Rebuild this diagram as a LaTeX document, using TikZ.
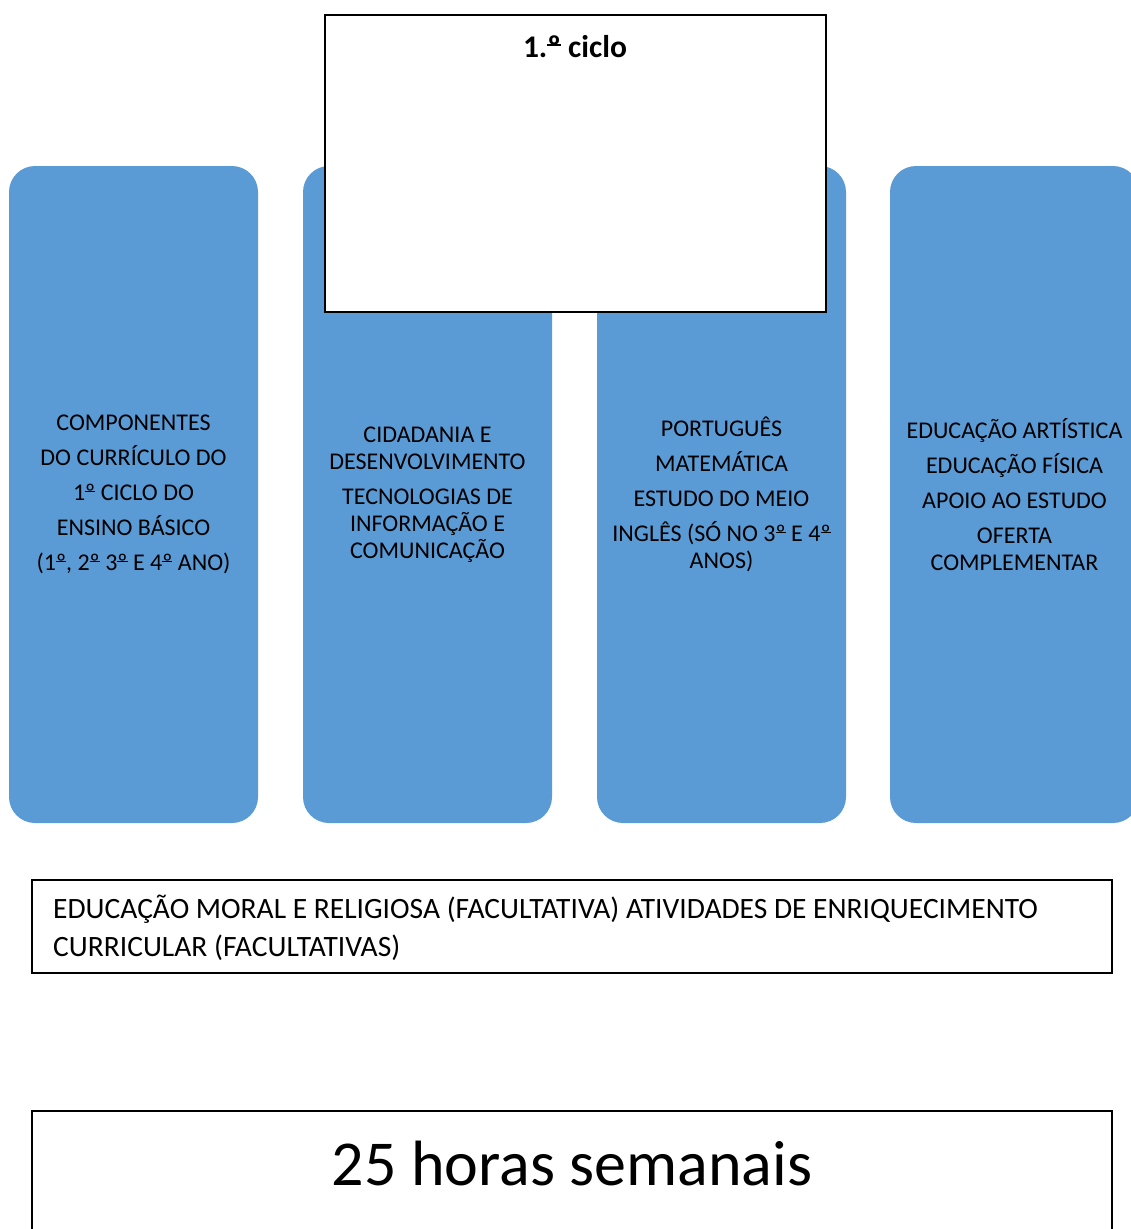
\documentclass[tikz,border=0pt]{standalone}
\usepackage{fontspec}
\setmainfont{Carlito}
\definecolor{boxblue}{RGB}{91,155,213}
\newcommand\myord{\leavevmode\setbox0\hbox{º}\rlap{\raisebox{0.36em}{\rule{\wd0}{0.055em}}}\box0}
\begin{document}
\begin{tikzpicture}[x=1pt,y=-1pt,
  bluebox/.style={fill=boxblue, rounded corners=26pt, minimum width=249pt, minimum height=657pt, inner sep=0pt, align=center, font=\fontsize{24}{27}\selectfont, text=black},
  framebox/.style={draw=black, line width=1.8pt, fill=white, inner sep=0pt}]
\useasboundingbox (0,0) rectangle (1130,1229);
\fill[white] (0,0) rectangle (1130,1229);
% blue columns
\node[bluebox] (b1) at (133.5,494.5) {COMPONENTES\\[8pt]DO CURRÍCULO DO\\[8pt]1\myord{} CICLO DO\\[8pt]ENSINO BÁSICO\\[8pt](1\myord, 2\myord{} 3\myord{} E 4\myord{} ANO)};
\node[bluebox] (b2) at (427.5,494.5) {CIDADANIA E\\DESENVOLVIMENTO\\[8pt]TECNOLOGIAS DE\\INFORMAÇÃO E\\COMUNICAÇÃO};
\node[bluebox] (b3) at (721.5,494.5) {PORTUGUÊS\\[8pt]MATEMÁTICA\\[8pt]ESTUDO DO MEIO\\[8pt]INGLÊS (SÓ NO 3\myord{} E 4\myord\\ANOS)};
\node[bluebox] (b4) at (1014.5,494.5) {EDUCAÇÃO ARTÍSTICA\\[8pt]EDUCAÇÃO FÍSICA\\[8pt]APOIO AO ESTUDO\\[8pt]OFERTA\\COMPLEMENTAR};
% title box
\node[framebox, minimum width=501pt, minimum height=297pt] (title) at (575.5,163.5) {};
\node[anchor=base, font=\fontsize{31.5}{34}\selectfont\bfseries] (titletext) at (575,57) {1.\myord{} ciclo};
% bottom boxes
\node[framebox, minimum width=1080pt, minimum height=93pt] (extra) at (572,926.5) {};
\node[anchor=north west, align=left, inner sep=0pt, font=\fontsize{29.5}{38}\selectfont] (extratext) at (53,895) {EDUCAÇÃO MORAL E RELIGIOSA (FACULTATIVA) ATIVIDADES DE ENRIQUECIMENTO\\CURRICULAR (FACULTATIVAS)};
\node[framebox, minimum width=1080pt, minimum height=160pt] (hours) at (572,1191) {};
\node[font=\fontsize{64}{70}\selectfont] (hourstext) at (572,1163) {25 horas semanais};
\end{tikzpicture}
\end{document}
